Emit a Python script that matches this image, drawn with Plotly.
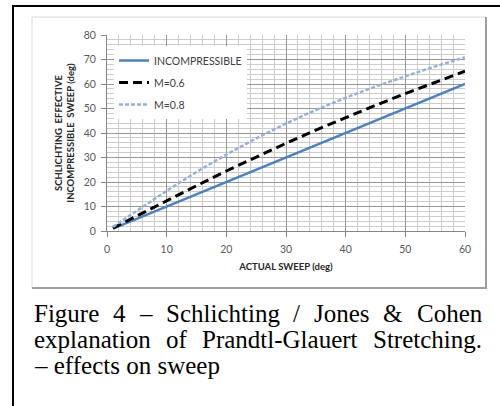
import plotly.graph_objects as go

# Actual sweep angle (deg)
actual_sweep = [1, 5, 10, 15, 20, 25, 30, 35, 40, 45, 50, 55, 60]

# Schlichting effective incompressible sweep (deg)
incompressible = [1, 5, 10, 15, 20, 25, 30, 35, 40, 45, 50, 55, 60]
mach_06 = [1.2, 6.2, 12.4, 18.5, 24.5, 30.2, 35.8, 41.2, 46.3, 51.3, 56.1, 60.7, 65.2]
mach_08 = [1.7, 8.3, 16.4, 24.1, 31.2, 37.8, 43.9, 49.4, 54.4, 59.0, 63.2, 67.2, 70.9]

series_names = ["INCOMPRESSIBLE", "M=0.6", "M=0.8"]

caption_lines = [
    "Figure 4 – Schlichting / Jones & Cohen",
    "explanation of Prandtl-Glauert Stretching.",
    "– effects on sweep",
]

W, H = 500, 406
ML, MR, MT, MB = 107, 35, 35, 175
PW, PH = W - ML - MR, H - MT - MB


def px(x):
    return (x - ML) / PW


def py(y):
    return (H - MB - y) / PH


fig = go.Figure()
styles = [
    dict(color="#4F81BD", width=2.5, dash="solid"),
    dict(color="#000000", width=3, dash="9px,5px"),
    dict(color="#95B3D7", width=2.5, dash="4px,2px"),
]
for i, (name, ys) in enumerate(zip(series_names, [incompressible, mach_06, mach_08])):
    fig.add_trace(go.Scatter(
        x=actual_sweep, y=ys, mode="lines", name=name,
        line=styles[i], legendgroup=str(i),
    ))

axis_font = dict(family="Lato, Open Sans, sans-serif", size=10.5, color="#595959")
title_font = dict(family="Lato, Open Sans, sans-serif", size=9.5, color="#262626")

fig.update_xaxes(
    range=[0, 60], dtick=10, tick0=0,
    showgrid=True, gridcolor="#969696", gridwidth=1,
    minor=dict(dtick=2, showgrid=True, gridcolor="#CCCCCC", gridwidth=1),
    showline=True, linecolor="#868686", linewidth=1,
    ticks="outside", ticklen=5, tickcolor="#868686",
    tickfont=axis_font, zeroline=False, ticklabelstandoff=3,
    title=dict(text="<b>ACTUAL SWEEP (deg)</b>", font=title_font, standoff=9),
)
fig.update_yaxes(
    range=[0, 80], dtick=10, tick0=0,
    showgrid=True, gridcolor="#969696", gridwidth=1,
    minor=dict(dtick=2, showgrid=True, gridcolor="#CCCCCC", gridwidth=1),
    showline=True, linecolor="#868686", linewidth=1,
    ticks="outside", ticklen=5, tickcolor="#868686",
    tickfont=axis_font, zeroline=False, ticklabelstandoff=3,
    title=dict(text="<b>SCHLICHTING  EFFECTIVE<br>INCOMPRESSIBLE  SWEEP (deg)</b>",
               font=title_font, standoff=7),
)

shapes = [
    # chart box
    dict(type="rect", xref="paper", yref="paper",
         x0=px(32), x1=px(486), y0=py(288), y1=py(17),
         line=dict(color="#DADADA", width=1), layer="below"),
    dict(type="line", xref="paper", yref="paper",
         x0=px(486), x1=px(486), y0=py(289), y1=py(17),
         line=dict(color="#9E9E9E", width=2)),
    dict(type="line", xref="paper", yref="paper",
         x0=px(32), x1=px(487), y0=py(288), y1=py(288),
         line=dict(color="#9E9E9E", width=2)),
    # page frame
    dict(type="line", xref="paper", yref="paper",
         x0=px(13), x1=px(13), y0=py(406), y1=py(5),
         line=dict(color="#000000", width=2)),
    dict(type="line", xref="paper", yref="paper",
         x0=px(12), x1=px(500), y0=py(6), y1=py(6),
         line=dict(color="#000000", width=2)),
]

# Times-compatible advance widths (1/1000 em) used to justify the caption
TIMES_W = {
    "F": 556, "i": 278, "g": 500, "u": 500, "r": 333, "e": 444, "4": 500,
    "–": 500, "S": 556, "c": 444, "h": 500, "l": 278, "t": 278, "n": 500,
    "/": 278, "J": 389, "o": 500, "s": 389, "&": 778, "C": 667, "x": 500,
    "p": 500, "a": 444, "P": 556, "d": 500, "-": 333, "G": 722, ".": 250,
    "f": 333, "w": 722, " ": 250,
}
CAP_SIZE = 25
cap_font = dict(family="Liberation Serif, Times New Roman, serif", size=CAP_SIZE, color="#000000")


def word_width(word):
    return sum(TIMES_W.get(ch, 500) for ch in word) * CAP_SIZE / 1000


annotations = []
left, right = 33, 481
line_y = [313, 339, 365]
for k, text in enumerate(caption_lines):
    words = text.split(" ")
    justify = k < len(caption_lines) - 1
    if justify:
        gap = (right - left - sum(word_width(w) for w in words)) / (len(words) - 1)
        xpos = left
        for w in words:
            annotations.append(dict(text=w, x=px(xpos), y=py(line_y[k]), xref="paper", yref="paper",
                                    xanchor="left", yanchor="middle", showarrow=False,
                                    font=cap_font, xshift=-1))
            xpos += word_width(w) + gap
    else:
        annotations.append(dict(text=text, x=px(left), y=py(line_y[k]), xref="paper", yref="paper",
                                xanchor="left", yanchor="middle", showarrow=False,
                                font=cap_font, xshift=-1))

fig.update_layout(
    width=W, height=H,
    margin=dict(l=ML, r=MR, t=MT, b=MB),
    paper_bgcolor="white", plot_bgcolor="white",
    showlegend=True,
    legend=dict(
        x=px(114), y=py(46), xanchor="left", yanchor="top",
        bgcolor="white", borderwidth=0,
        font=dict(family="Lato, Open Sans, sans-serif", size=10.5, color="#404040"),
        tracegroupgap=3, traceorder="grouped",
    ),
    shapes=shapes,
    annotations=annotations,
)

fig.write_html("out.html")
